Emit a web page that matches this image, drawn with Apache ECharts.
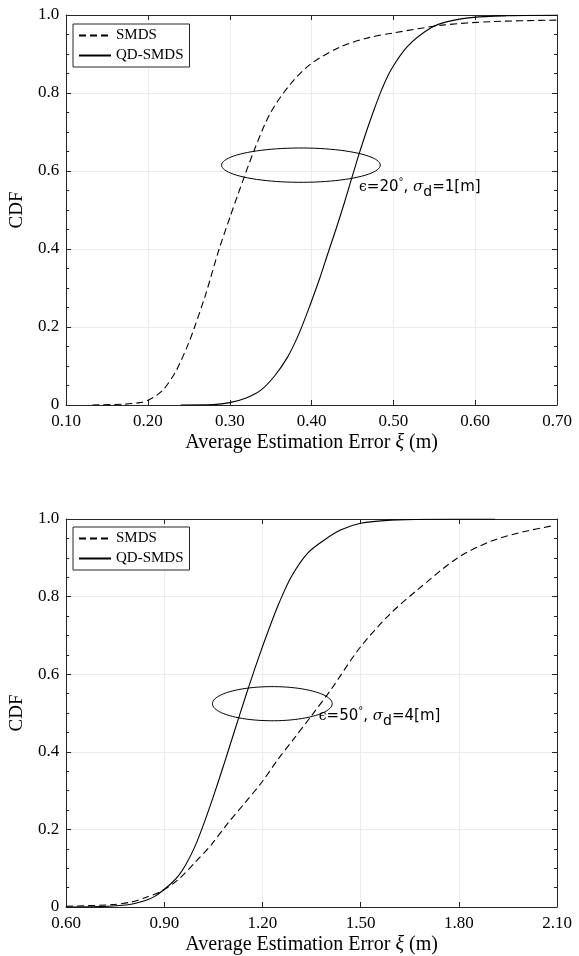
<!DOCTYPE html>
<html>
<head>
<meta charset="utf-8">
<script src="https://cdn.jsdelivr.net/npm/echarts@6/dist/echarts.min.js"></script>
<style>
html, body { margin: 0; padding: 0; background: #fff; }
#main { width: 579px; height: 956px; }
</style>
</head>
<body>
<div id="main"></div>
<script>
// ---- values ----
var seriesNames = ['SMDS', 'QD-SMDS'];

// upper panel (epsilon 20 deg, sigma_d 1 m)
var smdsTop = [
  [0.132, 0], [0.17, 0.002], [0.19, 0.006], [0.20, 0.012], [0.21, 0.024],
  [0.22, 0.042], [0.235, 0.09], [0.25, 0.16], [0.257, 0.2], [0.27, 0.28],
  [0.287, 0.40], [0.30, 0.48], [0.31, 0.54], [0.33, 0.654], [0.35, 0.75],
  [0.375, 0.825], [0.40, 0.876], [0.436, 0.919], [0.47, 0.942], [0.50, 0.954],
  [0.56, 0.974], [0.62, 0.983], [0.70, 0.987]
];
var qdTop = [
  [0.24, 0], [0.28, 0.001], [0.30, 0.006], [0.32, 0.018], [0.338, 0.038],
  [0.355, 0.075], [0.371, 0.124], [0.385, 0.185], [0.399, 0.261], [0.41, 0.325],
  [0.42, 0.389], [0.43, 0.452], [0.44, 0.518], [0.456, 0.63], [0.466, 0.695],
  [0.476, 0.755], [0.486, 0.81], [0.497, 0.859], [0.517, 0.919], [0.545, 0.966],
  [0.566, 0.983], [0.598, 0.994], [0.639, 0.998], [0.70, 1.0]
];

// lower panel (epsilon 50 deg, sigma_d 4 m)
var smdsBottom = [
  [0.60, 0.002], [0.74, 0.006], [0.80, 0.013], [0.841, 0.024], [0.892, 0.041],
  [0.943, 0.071], [0.993, 0.114], [1.044, 0.161], [1.095, 0.217], [1.146, 0.268],
  [1.20, 0.324], [1.247, 0.38], [1.298, 0.436], [1.348, 0.491], [1.409, 0.56],
  [1.50, 0.671], [1.592, 0.757], [1.673, 0.817], [1.795, 0.899], [1.896, 0.942],
  [1.997, 0.967], [2.09, 0.983]
];
var qdBottom = [
  [0.60, 0], [0.70, 0.001], [0.79, 0.006], [0.84, 0.016], [0.872, 0.028],
  [0.92, 0.06], [0.943, 0.08], [0.965, 0.108], [0.993, 0.155], [1.02, 0.213],
  [1.05, 0.285], [1.08, 0.362], [1.115, 0.455], [1.15, 0.547], [1.185, 0.635],
  [1.22, 0.717], [1.25, 0.782], [1.288, 0.851], [1.338, 0.912], [1.389, 0.946],
  [1.44, 0.972], [1.50, 0.989], [1.592, 0.997], [1.70, 0.9995], [1.91, 1.0]
];

// axis ranges: [min, max, interval]
var xRangeTop = [0.10, 0.70, 0.10];
var xRangeBottom = [0.60, 2.10, 0.30];
var yRange = [0, 1, 0.2];

// ellipse annotations: [cx, cy, rx, ry] and label anchor [x, y]
var ringTop = [0.387, 0.615, 0.097, 0.044];
var noteTop = [0.458, 0.558];
var ringBottom = [1.23, 0.524, 0.183, 0.044];
var noteBottom = [1.372, 0.492];
var noteTextTop = ['20', '1'];
var noteTextBottom = ['50', '4'];

// ---- chart ----
var serif = 'Liberation Serif';
var ink = '#262626';
var myChart = echarts.init(document.getElementById('main'));

function mainX(grid, r) {
  return {
    type: 'value', gridIndex: grid, position: 'bottom',
    min: r[0], max: r[1], interval: r[2],
    name: 'Average Estimation Error {i|ξ} (m)',
    nameLocation: 'middle', nameGap: 28,
    nameTextStyle: {
      fontFamily: serif, fontSize: 20, color: '#000',
      rich: { i: { fontFamily: serif, fontSize: 20, fontStyle: 'italic', color: '#000' } }
    },
    axisLine: { show: true, onZero: false, lineStyle: { color: ink, width: 1 } },
    axisTick: { show: true, inside: true, length: 5, lineStyle: { color: ink } },
    axisLabel: {
      fontFamily: serif, fontSize: 17, color: '#000', margin: 8,
      formatter: function (v) { return v.toFixed(2); }
    },
    splitLine: { show: true, lineStyle: { color: '#ececec', width: 1 } }
  };
}
function boxX(grid, r) {
  return {
    type: 'value', gridIndex: grid, position: 'top',
    min: r[0], max: r[1], interval: r[2],
    axisLine: { show: true, onZero: false, lineStyle: { color: ink, width: 1 } },
    axisTick: { show: true, inside: true, length: 5, lineStyle: { color: ink } },
    axisLabel: { show: false },
    splitLine: { show: false }
  };
}
function mainY(grid) {
  return {
    type: 'value', gridIndex: grid, position: 'left',
    min: yRange[0], max: yRange[1], interval: yRange[2],
    name: 'CDF', nameLocation: 'middle', nameGap: 29,
    nameTextStyle: { fontFamily: serif, fontSize: 19, color: '#000' },
    axisLine: { show: true, onZero: false, lineStyle: { color: ink, width: 1 } },
    axisTick: { show: true, inside: true, length: 5, lineStyle: { color: ink } },
    minorTick: { show: true, splitNumber: 4, length: 3, lineStyle: { color: ink } },
    axisLabel: {
      fontFamily: serif, fontSize: 17, color: '#000', margin: 7,
      formatter: function (v) { return v === 0 ? '0' : v.toFixed(1); }
    },
    splitLine: { show: true, lineStyle: { color: '#ececec', width: 1 } }
  };
}
function boxY(grid) {
  return {
    type: 'value', gridIndex: grid, position: 'right',
    min: yRange[0], max: yRange[1], interval: yRange[2],
    axisLine: { show: true, onZero: false, lineStyle: { color: ink, width: 1 } },
    axisTick: { show: true, inside: true, length: 5, lineStyle: { color: ink } },
    minorTick: { show: true, splitNumber: 4, length: 3, lineStyle: { color: ink } },
    axisLabel: { show: false },
    splitLine: { show: false }
  };
}

function curve(name, data, axis, dashed) {
  return {
    name: name, type: 'line', xAxisIndex: axis, yAxisIndex: axis,
    data: data, symbol: 'none', smooth: 0.3,
    lineStyle: { color: '#000', width: 1.1, type: dashed ? [7, 4] : 'solid' },
    itemStyle: { color: '#000' },
    z: 5
  };
}

function note(ring, at, txt, axis) {
  return {
    type: 'custom', xAxisIndex: axis, yAxisIndex: axis, clip: false,
    data: [ring.concat(at)],
    renderItem: function (params, api) {
      var c = api.coord([api.value(0), api.value(1)]);
      var s = api.size([api.value(2), api.value(3)]);
      var pts = [];
      for (var k = 0; k <= 90; k++) {
        var t = k / 90 * Math.PI * 2;
        pts.push([c[0] + s[0] * Math.cos(t), c[1] + s[1] * Math.sin(t)]);
      }
      var p = api.coord([api.value(4), api.value(5)]);
      return {
        type: 'group',
        children: [
          { type: 'polygon', shape: { points: pts },
            style: { fill: 'none', stroke: '#000', lineWidth: 1 } },
          { type: 'text', x: p[0], y: p[1],
            style: {
              text: '{e|ϵ}{a|=' + txt[0] + '}{sup|°}{a|, }{s|σ}{sub|d}{a|=' + txt[1] + '[m]}',
              verticalAlign: 'middle', align: 'left',
              rich: {
                a: { fontFamily: 'DejaVu Sans', fontSize: 15, color: '#000' },
                e: { fontFamily: 'DejaVu Serif', fontSize: 14, color: '#000' },
                s: { fontFamily: 'DejaVu Serif', fontSize: 15, fontStyle: 'italic', color: '#000' },
                sup: { fontFamily: 'DejaVu Sans', fontSize: 10, color: '#000', padding: [0, 0, 10, 0] },
                sub: { fontFamily: 'DejaVu Sans', fontSize: 14, color: '#000', padding: [10, 0, 0, 0] }
              }
            } }
        ]
      };
    }
  };
}

function legendAt(top) {
  return {
    orient: 'vertical', left: 73, top: top,
    data: seriesNames,
    itemWidth: 32, itemHeight: 15, itemGap: 5,
    padding: [4, 6, 4, 5],
    borderColor: ink, borderWidth: 1, borderRadius: 0,
    backgroundColor: '#fff',
    selectedMode: false,
    itemStyle: { opacity: 0 },
    textStyle: { fontFamily: serif, fontSize: 15, color: '#000' }
  };
}

myChart.setOption({
  animation: false,
  backgroundColor: '#fff',
  grid: [
    { left: 64, top: 15, width: 493, height: 390 },
    { left: 64, top: 519, width: 493, height: 389 }
  ],
  legend: [legendAt(24), legendAt(527)],
  xAxis: [mainX(0, xRangeTop), boxX(0, xRangeTop), mainX(1, xRangeBottom), boxX(1, xRangeBottom)],
  yAxis: [mainY(0), boxY(0), mainY(1), boxY(1)],
  series: [
    curve(seriesNames[0], smdsTop, 0, true),
    curve(seriesNames[1], qdTop, 0, false),
    curve(seriesNames[0], smdsBottom, 2, true),
    curve(seriesNames[1], qdBottom, 2, false),
    note(ringTop, noteTop, noteTextTop, 0),
    note(ringBottom, noteBottom, noteTextBottom, 2)
  ]
});
</script>
</body>
</html>
